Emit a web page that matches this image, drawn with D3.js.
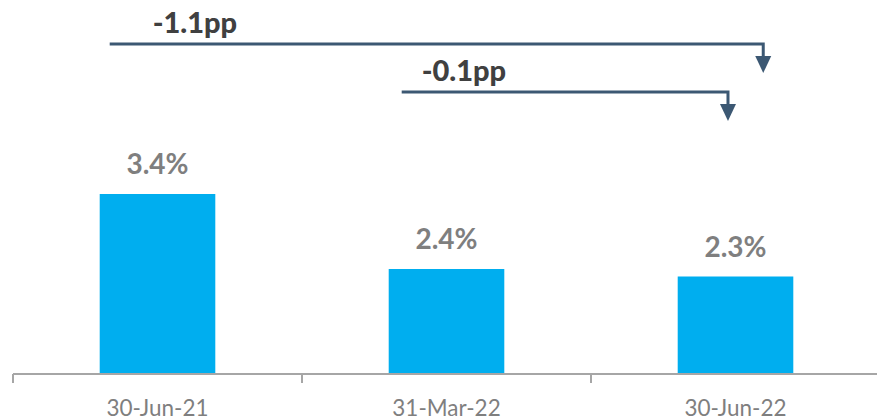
<!DOCTYPE html>
<html>
<head>
<meta charset="utf-8">
<script src="https://cdn.jsdelivr.net/npm/d3@7"></script>
<style>
  html, body { margin: 0; padding: 0; background: #fff; }
  svg { display: block; }
</style>
</head>
<body>
<svg id="chart" width="877" height="420"></svg>
<script>
// Ratio by reporting date
const categories = ["30-Jun-21", "31-Mar-22", "30-Jun-22"];
const values = [3.4, 2.4, 2.3];
const valueLabels = ["3.4%", "2.4%", "2.3%"];

// Change annotations: from category index -> to category index
const changeLabels = ["-1.1pp", "-0.1pp"];
const changeFrom = [0, 1];
const changeTo = [2, 2];

const svg = d3.select("#chart");
const W = 877, H = 420;
const baseY = 374;

const x = d3.scaleBand()
  .domain(categories)
  .range([13, 880])
  .paddingInner(0.6)
  .paddingOuter(0.3);

const y = d3.scaleLinear()
  .domain([1, 5])
  .range([baseY, baseY - 300]);

const barColor = "#00aeef";
const arrowColor = "#3c5873";

// Bars
svg.append("g").selectAll("rect")
  .data(values)
  .join("rect")
  .attr("x", (d, i) => x(categories[i]))
  .attr("y", d => y(d))
  .attr("width", x.bandwidth())
  .attr("height", d => baseY - y(d))
  .attr("fill", barColor);

// Value labels
svg.append("g").selectAll("text")
  .data(values)
  .join("text")
  .attr("x", (d, i) => x(categories[i]) + x.bandwidth() / 2)
  .attr("y", d => y(d) - 20)
  .attr("text-anchor", "middle")
  .attr("font-family", "Lato, 'Open Sans', sans-serif")
  .attr("font-weight", "bold")
  .attr("font-size", 28)
  .attr("fill", "#7f7f7f")
  .text((d, i) => valueLabels[i]);

// Category axis with ticks at band boundaries
const axis = svg.append("g");
const step = x.step();
const x0 = x.range()[0];
axis.append("line")
  .attr("x1", x0).attr("x2", W + 5)
  .attr("y1", baseY).attr("y2", baseY)
  .attr("stroke", "#a6a6a6").attr("stroke-width", 2);
d3.range(categories.length + 1).forEach(i => {
  axis.append("line")
    .attr("x1", x0 + i * step).attr("x2", x0 + i * step)
    .attr("y1", baseY).attr("y2", baseY + 9)
    .attr("stroke", "#a6a6a6").attr("stroke-width", 2);
});
axis.selectAll("text.cat")
  .data(categories)
  .join("text")
  .attr("class", "cat")
  .attr("x", d => x(d) + x.bandwidth() / 2)
  .attr("y", 416)
  .attr("text-anchor", "middle")
  .attr("font-family", "Lato, 'Open Sans', sans-serif")
  .attr("font-size", 22.5)
  .attr("fill", "#7f7f7f")
  .text(d => d);

// Change arrows above the bars
const arrowRows = [
  { y: 44, x1: x(categories[changeFrom[0]]) + 10, x2: x(categories[changeTo[0]]) + x.bandwidth() * 0.74, tx: 43 },
  { y: 92, x1: x(categories[changeFrom[1]]) + 13, x2: x(categories[changeTo[1]]) + x.bandwidth() * 0.435, tx: 20 }
];
const ann = svg.append("g");
arrowRows.forEach((r, i) => {
  ann.append("path")
    .attr("d", `M${r.x1},${r.y}H${r.x2}V${r.y + 13}`)
    .attr("fill", "none")
    .attr("stroke", arrowColor)
    .attr("stroke-width", 3);
  ann.append("path")
    .attr("d", `M${r.x2 - 8},${r.y + 12}L${r.x2 + 8},${r.y + 12}L${r.x2},${r.y + 29}Z`)
    .attr("fill", arrowColor);
  ann.append("text")
    .attr("x", r.x1 + r.tx)
    .attr("y", r.y - 11)
    .attr("font-family", "Lato, 'Open Sans', sans-serif")
    .attr("font-weight", "900")
    .attr("font-size", 29)
    .attr("fill", "#404040")
    .text(changeLabels[i]);
});
</script>
</body>
</html>
